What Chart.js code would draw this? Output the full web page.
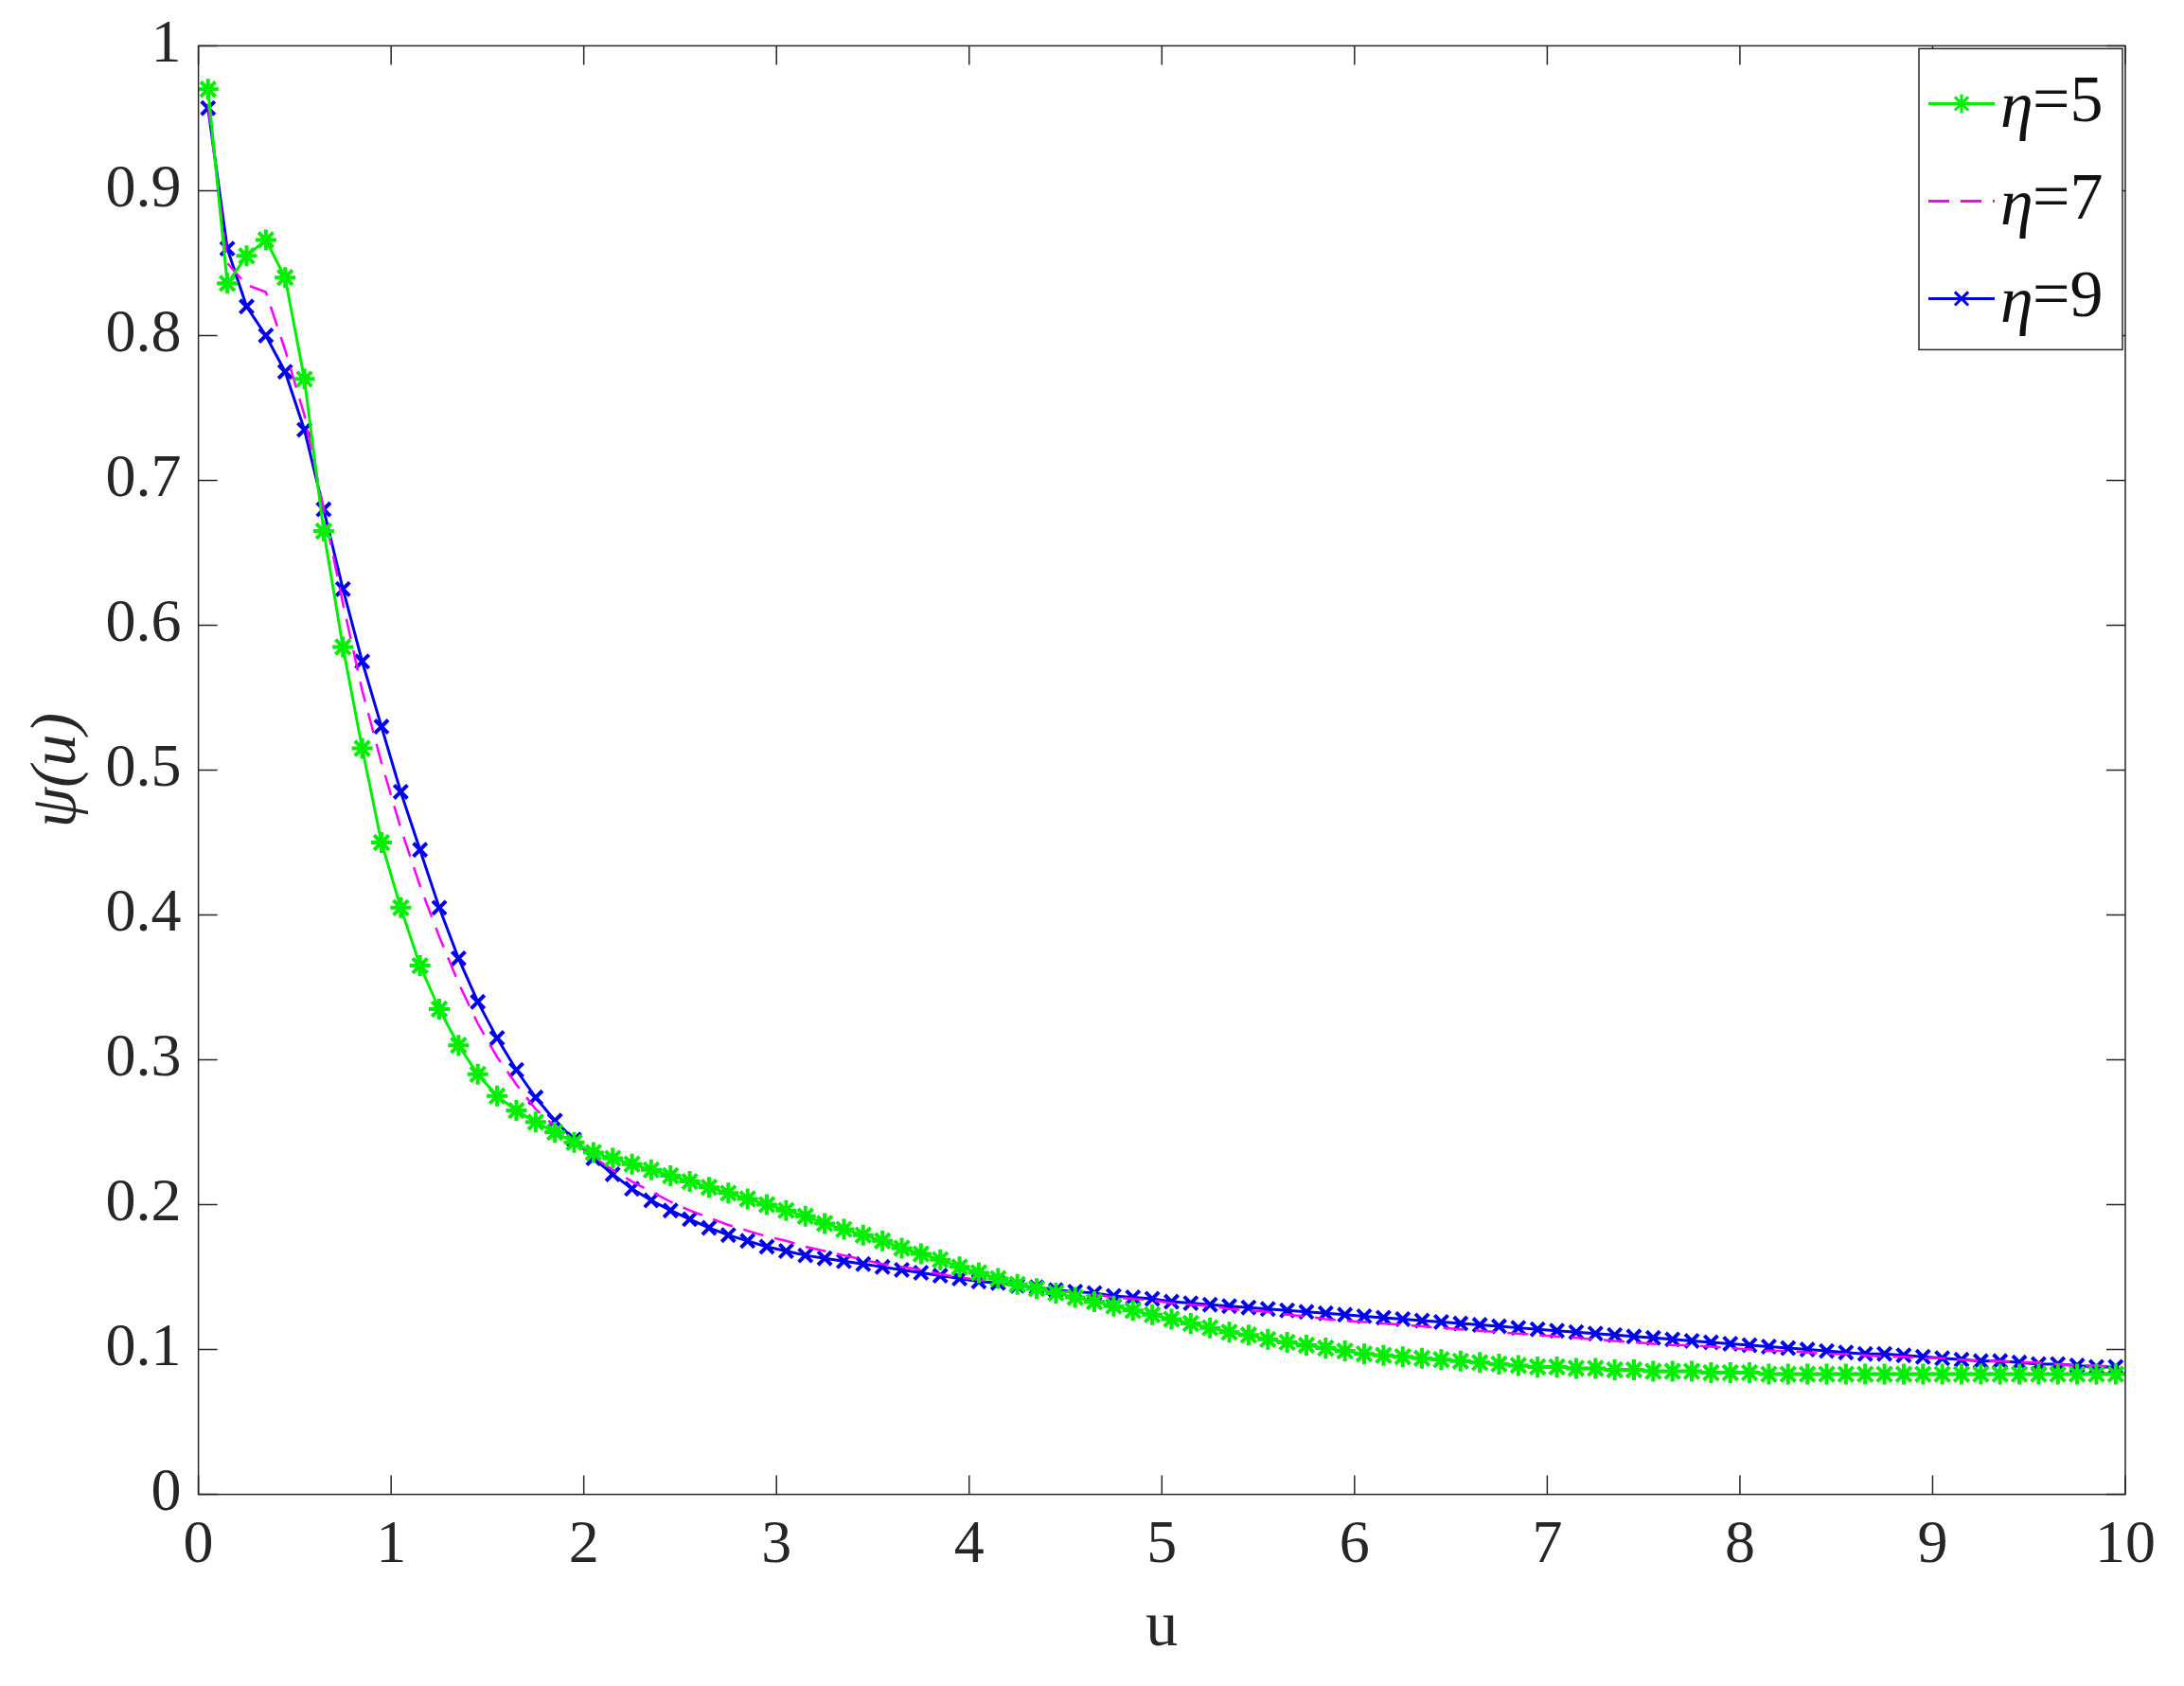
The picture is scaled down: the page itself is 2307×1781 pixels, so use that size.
<!DOCTYPE html>
<html>
<head>
<meta charset="utf-8">
<script src="https://cdn.jsdelivr.net/npm/chart.js@4.4.1/dist/chart.umd.min.js"></script>
<style>
  body { margin: 0; background: #fff; }
  #wrap { width: 2307px; height: 1781px; }
</style>
</head>
<body>
<div id="wrap"><canvas id="psiChart" width="2307" height="1781"></canvas></div>
<script>
// u 값 (0.05 ~ 9.95, 0.1 간격)
const uValues = [0.05,0.15,0.25,0.35,0.45,0.55,0.65,0.75,0.85,0.95,1.05,1.15,1.25,1.35,1.45,1.55,1.65,1.75,1.85,1.95,2.05,2.15,2.25,2.35,2.45,2.55,2.65,2.75,2.85,2.95,3.05,3.15,3.25,3.35,3.45,3.55,3.65,3.75,3.85,3.95,4.05,4.15,4.25,4.35,4.45,4.55,4.65,4.75,4.85,4.95,5.05,5.15,5.25,5.35,5.45,5.55,5.65,5.75,5.85,5.95,6.05,6.15,6.25,6.35,6.45,6.55,6.65,6.75,6.85,6.95,7.05,7.15,7.25,7.35,7.45,7.55,7.65,7.75,7.85,7.95,8.05,8.15,8.25,8.35,8.45,8.55,8.65,8.75,8.85,8.95,9.05,9.15,9.25,9.35,9.45,9.55,9.65,9.75,9.85,9.95];

const eta5 = [0.97,0.836,0.855,0.866,0.84,0.77,0.665,0.585,0.515,0.45,0.405,0.365,0.335,0.31,0.29,0.275,0.265,0.257,0.25,0.243,0.236,0.232,0.228,0.224,0.22,0.216,0.212,0.208,0.204,0.2,0.196,0.192,0.187,0.183,0.179,0.175,0.17,0.166,0.162,0.157,0.153,0.149,0.145,0.142,0.139,0.136,0.133,0.13,0.127,0.124,0.121,0.118,0.115,0.112,0.11,0.107,0.105,0.103,0.101,0.099,0.097,0.096,0.095,0.094,0.093,0.092,0.091,0.09,0.089,0.088,0.088,0.087,0.087,0.086,0.086,0.085,0.085,0.085,0.084,0.084,0.084,0.083,0.083,0.083,0.083,0.083,0.083,0.083,0.083,0.083,0.083,0.083,0.083,0.083,0.083,0.083,0.083,0.083,0.083,0.083];

const eta7 = [0.96,0.85,0.835,0.83,0.79,0.745,0.68,0.615,0.555,0.505,0.46,0.42,0.385,0.353,0.325,0.302,0.283,0.266,0.254,0.243,0.233,0.224,0.216,0.209,0.202,0.196,0.191,0.186,0.182,0.178,0.175,0.171,0.168,0.165,0.162,0.159,0.157,0.155,0.152,0.15,0.148,0.146,0.144,0.142,0.141,0.139,0.138,0.136,0.135,0.134,0.132,0.131,0.13,0.128,0.127,0.126,0.124,0.123,0.121,0.12,0.119,0.118,0.117,0.116,0.115,0.114,0.113,0.112,0.111,0.11,0.109,0.108,0.107,0.106,0.105,0.104,0.103,0.103,0.102,0.101,0.1,0.099,0.099,0.098,0.097,0.097,0.096,0.095,0.095,0.094,0.094,0.093,0.092,0.092,0.091,0.091,0.09,0.089,0.089,0.088];

const eta9 = [0.957,0.86,0.82,0.80,0.775,0.735,0.68,0.625,0.575,0.53,0.485,0.445,0.405,0.37,0.34,0.315,0.293,0.274,0.258,0.245,0.232,0.221,0.211,0.203,0.196,0.19,0.184,0.179,0.175,0.171,0.168,0.165,0.163,0.161,0.159,0.157,0.155,0.153,0.151,0.149,0.147,0.146,0.144,0.143,0.141,0.14,0.139,0.137,0.136,0.135,0.133,0.132,0.131,0.13,0.129,0.128,0.127,0.126,0.125,0.124,0.123,0.122,0.121,0.12,0.119,0.118,0.117,0.116,0.115,0.114,0.113,0.112,0.111,0.11,0.109,0.108,0.107,0.106,0.105,0.104,0.103,0.102,0.101,0.1,0.099,0.098,0.097,0.097,0.096,0.095,0.094,0.093,0.092,0.092,0.091,0.09,0.09,0.089,0.088,0.088];

const seriesLabels = ['η=5', 'η=7', 'η=9'];
const xTicks = [0,1,2,3,4,5,6,7,8,9,10];
const yTicks = [0,0.1,0.2,0.3,0.4,0.5,0.6,0.7,0.8,0.9,1];

const FONT = '"Times New Roman", "Liberation Serif", Times, serif';

function toPoints(ys) {
    return uValues.map((u, i) => ({ x: u, y: ys[i] }));
}

// 박스, 안쪽 눈금, 범례 그리기
const framePlugin = {
    id: 'frame',
    afterDraw(chart) {
        const { ctx, chartArea: a, scales } = chart;
        ctx.save();
        ctx.strokeStyle = '#262626';
        ctx.lineWidth = 1.5;
        ctx.strokeRect(a.left, a.top, a.right - a.left, a.bottom - a.top);
        const t = 20;
        ctx.beginPath();
        xTicks.forEach(v => {
            const px = scales.x.getPixelForValue(v);
            ctx.moveTo(px, a.bottom); ctx.lineTo(px, a.bottom - t);
            ctx.moveTo(px, a.top); ctx.lineTo(px, a.top + t);
        });
        yTicks.forEach(v => {
            const py = scales.y.getPixelForValue(v);
            ctx.moveTo(a.left, py); ctx.lineTo(a.left + t, py);
            ctx.moveTo(a.right, py); ctx.lineTo(a.right - t, py);
        });
        ctx.stroke();

        // 범례
        const w = 215, h = 318, lx = a.right - w - 3, ly = a.top + 3;
        ctx.fillStyle = '#fff';
        ctx.fillRect(lx, ly, w, h);
        ctx.strokeRect(lx, ly, w, h);
        ctx.textBaseline = 'middle';
        chart.data.datasets.forEach((ds, i) => {
            const cy = ly + 58 + i * 103;
            ctx.strokeStyle = ds.borderColor;
            ctx.lineWidth = 3;
            ctx.setLineDash(ds.borderDash || []);
            ctx.beginPath();
            ctx.moveTo(lx + 10, cy); ctx.lineTo(lx + 80, cy);
            ctx.stroke();
            ctx.setLineDash([]);
            if (ds.pointStyle) {
                Chart.helpers.drawPoint(ctx, { pointStyle: ds.pointStyle, radius: 10, rotation: 0, borderWidth: 3 }, lx + 45, cy);
            }
            ctx.fillStyle = '#111';
            ctx.font = 'italic 70px ' + FONT;
            ctx.fillText(ds.label.split('=')[0], lx + 86, cy + 6);
            ctx.font = '70px ' + FONT;
            ctx.fillText('=' + ds.label.split('=')[1], lx + 120, cy);
        });
        ctx.restore();
    }
};

const ctx = document.getElementById('psiChart').getContext('2d');
new Chart(ctx, {
    type: 'line',
    data: {
        datasets: [
            { label: seriesLabels[0], data: toPoints(eta5), borderColor: '#00ee00', backgroundColor: '#00ee00',
              pointStyle: 'star', pointRadius: 11, pointBorderWidth: 4, borderWidth: 3 },
            { label: seriesLabels[1], data: toPoints(eta7), borderColor: '#ff00ff', backgroundColor: '#ff00ff',
              borderDash: [22, 12], pointRadius: 0, borderWidth: 2.5 },
            { label: seriesLabels[2], data: toPoints(eta9), borderColor: '#0000ee', backgroundColor: '#0000ee',
              pointStyle: 'crossRot', pointRadius: 10, pointBorderWidth: 4, borderWidth: 3 }
        ]
    },
    options: {
        responsive: false,
        animation: false,
        layout: { padding: { left: 20, right: 62, top: 48, bottom: 20 } },
        plugins: { legend: { display: false }, tooltip: { enabled: false } },
        scales: {
            x: {
                type: 'linear', min: 0, max: 10,
                afterBuildTicks: s => { s.ticks = xTicks.map(v => ({ value: v })); },
                grid: { display: false },
                border: { display: false },
                ticks: { color: '#262626', font: { family: FONT, size: 64 }, padding: 8 },
                title: { display: true, text: 'u', color: '#262626', font: { family: FONT, size: 68 }, padding: 0 }
            },
            y: {
                type: 'linear', min: 0, max: 1,
                afterBuildTicks: s => { s.ticks = yTicks.map(v => ({ value: v })); },
                grid: { display: false },
                border: { display: false },
                ticks: { color: '#262626', font: { family: FONT, size: 64 }, padding: 10,
                         callback: v => String(v) },
                title: { display: true, text: 'ψ(u)', color: '#262626', font: { family: FONT, size: 68, style: 'italic' }, padding: 0 }
            }
        }
    },
    plugins: [framePlugin]
});
</script>
</body>
</html>
